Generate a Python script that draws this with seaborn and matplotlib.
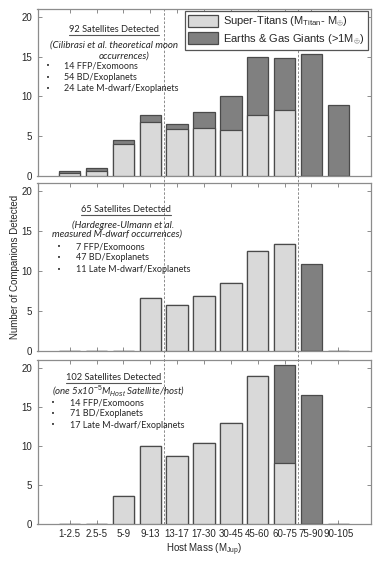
import numpy as np
import pandas as pd
import matplotlib
matplotlib.use('Agg')
import matplotlib.pyplot as plt
import seaborn as sns
from matplotlib.patches import Patch
from matplotlib.lines import Line2D

# ---------------- data ----------------
categories = ['1-2.5', '2.5-5', '5-9', '9-13', '13-17', '17-30',
              '30-45', '45-60', '60-75', '75-90', '90-105']

top_titans = [0.34, 0.67, 4.00, 6.76, 5.88, 6.09, 5.79, 7.65, 8.27, 0.0, 0.0]
top_total = [0.63, 0.97, 4.53, 7.72, 6.50, 8.06, 10.04, 14.95, 14.83, 15.30, 8.90]

mid_titans = [0.0, 0.0, 0.0, 6.55, 5.70, 6.88, 8.50, 12.50, 13.40, 0.0, 0.0]
mid_total = [0.0, 0.0, 0.0, 6.65, 5.70, 6.88, 8.50, 12.50, 13.40, 10.86, 0.0]

bot_titans = [0.0, 0.0, 3.54, 9.89, 8.63, 10.32, 12.88, 18.90, 7.83, 0.0, 0.0]
bot_total = [0.0, 0.0, 3.54, 9.89, 8.63, 10.32, 12.88, 18.90, 20.30, 16.55, 0.0]

panel_titles = ['92 Satellites Detected', '65 Satellites Detected', '102 Satellites Detected']
panel_notes = [
    ['(Cilibrasi et al. theoretical moon', 'occurrences)'],
    ['(Hardegree-Ulmann et al.', 'measured M-dwarf occurrences)'],
    [r'(one 5x10$^{-5}$M$_{Host}$ Satellite/host)'],
]
panel_bullets = [
    ['14 FFP/Exomoons', '54 BD/Exoplanets', '24 Late M-dwarf/Exoplanets'],
    ['7 FFP/Exomoons', '47 BD/Exoplanets', '11 Late M-dwarf/Exoplanets'],
    ['14 FFP/Exomoons', '71 BD/Exoplanets', '17 Late M-dwarf/Exoplanets'],
]
boundaries = [3.5, 8.5]   # group boundaries (category positions)

legend_labels = [r'Super-Titans (M$_{\mathrm{Titan}}$- M$_{\oplus}$)',
                 r'Earths & Gas Giants (>1M$_{\oplus}$)']

# ---------------- style ----------------
sns.set_theme(style='white')
plt.rcParams['font.family'] = ['Liberation Sans', 'DejaVu Sans']
plt.rcParams['mathtext.fontset'] = 'custom'
plt.rcParams['mathtext.rm'] = 'Liberation Sans'
plt.rcParams['mathtext.it'] = 'Liberation Sans:italic'

LIGHT = '#d9d9d9'
DARK = '#808080'
EDGE = '#4a4a4a'
SPINE = '#8c8c8c'
TXT = '#262626'
NOTE_FONT = ['Lato', 'DejaVu Sans']

W, H = 382, 567
fig = plt.figure(figsize=(W / 100, H / 100), dpi=100)

left_px, right_px = 37.5, 370.5
panels_px = [(9, 176), (183.3, 350.7), (360, 523.5)]
axes = []
for (t, b) in panels_px:
    ax = fig.add_axes([left_px / W, 1 - b / H, (right_px - left_px) / W, (b - t) / H])
    axes.append(ax)

data = [(top_titans, top_total), (mid_titans, mid_total), (bot_titans, bot_total)]

note_layout = [
    dict(title=(114, 30), notes=[(114, 45), (124, 56)], bx=48, tx=64, ys=[66, 77.5, 89]),
    dict(title=(126, 210), notes=[(123, 225), (117, 234.5)], bx=58.5, tx=75.5, ys=[246.7, 258, 270]),
    dict(title=(113.5, 377.7), notes=[(119, 391.7)], bx=53.5, tx=70, ys=[402.7, 414, 425.3]),
]

title_texts = []
for i, ax in enumerate(axes):
    titans, total = data[i]
    df = pd.DataFrame({'cat': categories, 'titans': titans, 'total': total})
    for xv in boundaries:
        ax.axvline(xv, ymin=(-0.06 if i < 2 else 0), ymax=1, color='#7a7a7a',
                   lw=0.6, ls=(0, (3, 2)), clip_on=False, zorder=0.5)
    sns.barplot(data=df, x='cat', y='total', order=categories, color=DARK,
                saturation=1, edgecolor=EDGE, linewidth=0.9, width=0.8, ax=ax, zorder=2)
    sns.barplot(data=df, x='cat', y='titans', order=categories, color=LIGHT,
                saturation=1, edgecolor=EDGE, linewidth=0.9, width=0.8, ax=ax, zorder=3)
    ax.set_xlim(-1.2, 11.2)
    ax.set_ylim(0, 21)
    ax.set_yticks([0, 5, 10, 15, 20])
    ax.set_xlabel('')
    ax.set_ylabel('')
    for s in ax.spines.values():
        s.set_color(SPINE)
        s.set_linewidth(0.9)
    ax.tick_params(axis='both', direction='in', length=3, width=0.7, color=SPINE,
                   top=True, right=True, bottom=True, left=True,
                   labelsize=7, labelcolor=TXT, pad=4)
    if i < 2:
        ax.tick_params(axis='x', labelbottom=False)

    lay = note_layout[i]
    tt = fig.text(lay['title'][0] / W, 1 - lay['title'][1] / H, panel_titles[i],
                  ha='center', va='center', fontsize=6.7, color=TXT, family=NOTE_FONT)
    title_texts.append(tt)
    for line, (cx, cy) in zip(panel_notes[i], lay['notes']):
        fig.text(cx / W, 1 - cy / H, line, ha='center', va='center', fontsize=7,
                 color=TXT, family=NOTE_FONT, style='italic')
    for b, y in zip(panel_bullets[i], lay['ys']):
        fig.text(lay['bx'] / W, 1 - y / H, '\u2022', ha='center', va='center',
                 fontsize=5, color=TXT, family=['DejaVu Sans'])
        fig.text(lay['tx'] / W, 1 - y / H, b, ha='left', va='center', fontsize=6.5,
                 color=TXT, family=NOTE_FONT)

axes[1].set_ylabel('Number of Companions Detected', fontsize=7, color=TXT, labelpad=1)
axes[2].set_xlabel(r'Host Mass (M$_{\mathrm{Jup}}$)', fontsize=7, color=TXT, labelpad=2)

handles = [Patch(facecolor=LIGHT, edgecolor=EDGE, linewidth=0.9),
           Patch(facecolor=DARK, edgecolor=EDGE, linewidth=0.9)]
leg = axes[0].legend(handles, legend_labels, loc='upper right', bbox_to_anchor=(1.0, 1.0),
                     borderaxespad=0.2, fancybox=False, framealpha=1, edgecolor='#555555',
                     fontsize=8, handlelength=2.7, handleheight=1.3, handletextpad=0.45,
                     labelspacing=0.3, borderpad=0.3)
leg.get_frame().set_linewidth(0.9)
leg.set_zorder(10)

# underline the panel titles
fig.canvas.draw()
r = fig.canvas.get_renderer()
for tt in title_texts:
    bb = tt.get_window_extent(renderer=r)
    y = bb.y0 - 0.5
    fig.add_artist(Line2D([bb.x0 / W, bb.x1 / W], [y / H, y / H],
                          transform=fig.transFigure, color='#555555', lw=0.8))

fig.savefig('out.png', dpi=100)
